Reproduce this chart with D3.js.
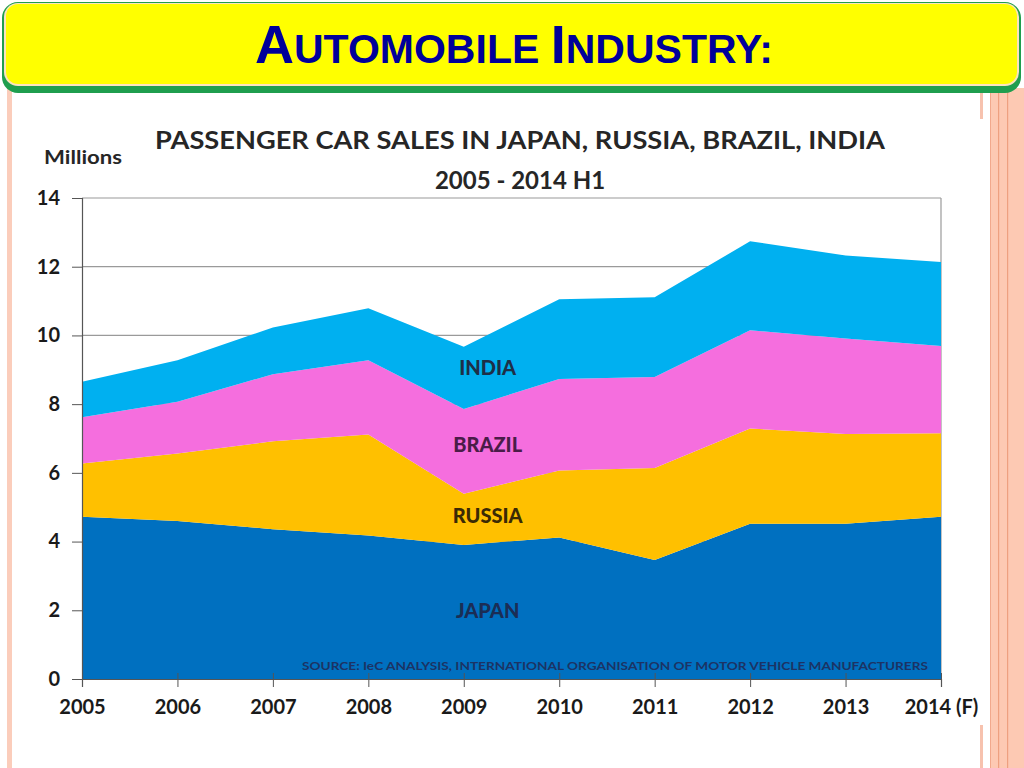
<!DOCTYPE html>
<html>
<head>
<meta charset="utf-8">
<script src="https://cdn.jsdelivr.net/npm/d3@7"></script>
<style>
  body { margin: 0; background: #fff; }
  svg { display: block; }
  .axis text { font-family: Lato, "Open Sans", sans-serif; font-weight: bold; fill: #1a1a1a; }
</style>
</head>
<body>
<div id="chart"></div>
<script>
// data (millions of cars)
var years = ["2005", "2006", "2007", "2008", "2009", "2010", "2011", "2012", "2013", "2014 (F)"];
var countries = ["JAPAN", "RUSSIA", "BRAZIL", "INDIA"];
var japan  = [4.72, 4.60, 4.36, 4.18, 3.90, 4.12, 3.46, 4.52, 4.52, 4.72];
var russia = [1.55, 1.96, 2.56, 2.94, 1.49, 1.95, 2.68, 2.77, 2.61, 2.43];
var brazil = [1.35, 1.51, 1.95, 2.16, 2.47, 2.66, 2.65, 2.86, 2.78, 2.54];
var india  = [1.03, 1.21, 1.36, 1.51, 1.81, 2.32, 2.32, 2.59, 2.42, 2.45];
var yTicks = [0, 2, 4, 6, 8, 10, 12, 14];

var colors = {JAPAN: "#0070c0", RUSSIA: "#ffc000", BRAZIL: "#f56ede", INDIA: "#00b0f0"};
var labelColors = {JAPAN: "#1b2d55", RUSSIA: "#3b2a05", BRAZIL: "#4a1c48", INDIA: "#1e2f48"};

var svgwidth = 1024;
var svgheight = 768;
var margin = {top: 198, bottom: 89, left: 82, right: 83};
var width = svgwidth - margin.left - margin.right;
var height = svgheight - margin.top - margin.bottom;

var svg = d3.select("#chart").append("svg").attr("width", svgwidth).attr("height", svgheight);

// slide decoration
svg.append("rect").attr("x", 7).attr("y", 88).attr("width", 5).attr("height", 680).attr("fill", "#fbcdbb");
svg.append("rect").attr("x", 990).attr("y", 88).attr("width", 34).attr("height", 680).attr("fill", "#fdc9b3");
svg.append("rect").attr("x", 990).attr("y", 88).attr("width", 1).attr("height", 680).attr("fill", "#f2a88c");
svg.append("rect").attr("x", 998).attr("y", 88).attr("width", 1.2).attr("height", 680).attr("fill", "#eea080");
svg.append("rect").attr("x", 1007).attr("y", 88).attr("width", 1.2).attr("height", 680).attr("fill", "#eea080");
svg.append("rect").attr("x", 980).attr("y", 92).attr("width", 3).attr("height", 27).attr("fill", "#f7c2ae");
svg.append("rect").attr("x", 980).attr("y", 725).attr("width", 3).attr("height", 43).attr("fill", "#f7c2ae");

// header banner
svg.append("rect").attr("x", 2).attr("y", 2).attr("width", 1019).attr("height", 91).attr("rx", 16)
    .attr("fill", "#1f9e4e");
svg.append("rect").attr("x", 4).attr("y", 3).attr("width", 1015).attr("height", 83).attr("rx", 14)
    .attr("fill", "#fbe3c0");
svg.append("rect").attr("x", 6).attr("y", 4).attr("width", 1011).attr("height", 80).attr("rx", 12)
    .attr("fill", "#ffff00");

var head = svg.append("text")
    .attr("x", 514).attr("y", 63)
    .attr("text-anchor", "middle")
    .attr("textLength", 518).attr("lengthAdjust", "spacingAndGlyphs")
    .style("font-family", "'Liberation Sans Narrow', 'Arial Narrow', sans-serif")
    .style("font-weight", "bold")
    .attr("fill", "#00009a");
head.append("tspan").style("font-size", "54px").text("A");
head.append("tspan").style("font-size", "41px").text("UTOMOBILE ");
head.append("tspan").style("font-size", "54px").text("I");
head.append("tspan").style("font-size", "41px").text("NDUSTRY:");

// chart titles
svg.append("text")
    .attr("x", 520).attr("y", 149)
    .attr("text-anchor", "middle")
    .attr("textLength", 730).attr("lengthAdjust", "spacingAndGlyphs")
    .style("font-family", "Lato, 'Open Sans', sans-serif").style("font-weight", "bold").style("font-size", "24px")
    .attr("fill", "#262626")
    .text("PASSENGER CAR SALES IN JAPAN, RUSSIA, BRAZIL, INDIA");
svg.append("text")
    .attr("x", 520).attr("y", 189)
    .attr("text-anchor", "middle")
    .style("font-family", "Lato, 'Open Sans', sans-serif").style("font-weight", "bold").style("font-size", "24px")
    .attr("fill", "#262626")
    .text("2005 - 2014 H1");
svg.append("text")
    .attr("x", 44).attr("y", 164)
    .attr("textLength", 78).attr("lengthAdjust", "spacingAndGlyphs")
    .style("font-family", "Lato, 'Open Sans', sans-serif").style("font-weight", "bold").style("font-size", "18px")
    .attr("fill", "#262626")
    .text("Millions");

var chartGroup = svg.append("g").attr("transform", "translate(" + margin.left + "," + margin.top + ")");

var xPoint = d3.scalePoint().domain(years).range([0, width]);
var yLinear = d3.scaleLinear().domain([0, 14]).range([height, 0]);

// grid + frame
chartGroup.selectAll(".grid")
    .data(yTicks.slice(1))
    .enter()
    .append("line")
    .attr("x1", 0).attr("x2", width)
    .attr("y1", d => yLinear(d)).attr("y2", d => yLinear(d))
    .attr("stroke", "#9a9a9a").attr("stroke-width", 1.2);
chartGroup.append("line")
    .attr("x1", width).attr("x2", width).attr("y1", 0).attr("y2", height)
    .attr("stroke", "#9a9a9a").attr("stroke-width", 1.2);

// stacked areas
var table = years.map(function(y, i) {
    return {year: y, JAPAN: japan[i], RUSSIA: russia[i], BRAZIL: brazil[i], INDIA: india[i]};
});
var stacked = d3.stack().keys(countries)(table);

var area = d3.area()
    .x(d => xPoint(d.data.year))
    .y0(d => yLinear(d[0]))
    .y1(d => yLinear(d[1]));

chartGroup.selectAll(".layer")
    .data(stacked)
    .enter()
    .append("path")
    .attr("d", area)
    .attr("fill", d => colors[d.key]);

// axes
var leftAxis = d3.axisLeft(yLinear).tickValues(yTicks).tickSize(10).tickPadding(12);
var bottomAxis = d3.axisBottom(xPoint).tickSize(8).tickPadding(13);

var gy = chartGroup.append("g").attr("class", "axis").call(leftAxis);
gy.selectAll("text").style("font-size", "20px");
gy.select(".domain").attr("stroke", "#555").attr("stroke-width", 1.2);
gy.selectAll(".tick line").attr("stroke", "#555");

var gx = chartGroup.append("g").attr("class", "axis").attr("transform", "translate(0," + height + ")").call(bottomAxis);
gx.selectAll("text").style("font-size", "20px");
gx.select(".domain").attr("stroke", "#555").attr("stroke-width", 1.2);
gx.selectAll(".tick line").attr("stroke", "#555").attr("y1", -6);

// band labels, placed a quarter of the way from 2009 to 2010
var i0 = years.indexOf("2009");
chartGroup.selectAll(".band-label")
    .data(stacked)
    .enter()
    .append("text")
    .attr("x", (xPoint(years[i0]) + xPoint(years[i0 + 1])) / 2 - (xPoint(years[i0 + 1]) - xPoint(years[i0])) / 4)
    .attr("y", function(d) {
        var a = d[i0], b = d[i0 + 1];
        var lo = a[0] + 0.25 * (b[0] - a[0]);
        var hi = a[1] + 0.25 * (b[1] - a[1]);
        return yLinear((lo + hi) / 2);
    })
    .attr("dy", "0.35em")
    .attr("text-anchor", "middle")
    .style("font-family", "Lato, 'Open Sans', sans-serif").style("font-weight", "900").style("font-size", "20px")
    .attr("fill", d => labelColors[d.key])
    .text(d => d.key);

// source note
chartGroup.append("text")
    .attr("x", 220).attr("y", height - 9)
    .attr("textLength", 626).attr("lengthAdjust", "spacingAndGlyphs")
    .style("font-family", "'Liberation Sans Narrow', Lato, sans-serif").style("font-weight", "bold").style("font-size", "12px")
    .attr("fill", "#1c3364")
    .text("SOURCE: IeC ANALYSIS, INTERNATIONAL ORGANISATION OF MOTOR VEHICLE MANUFACTURERS");
</script>
</body>
</html>
